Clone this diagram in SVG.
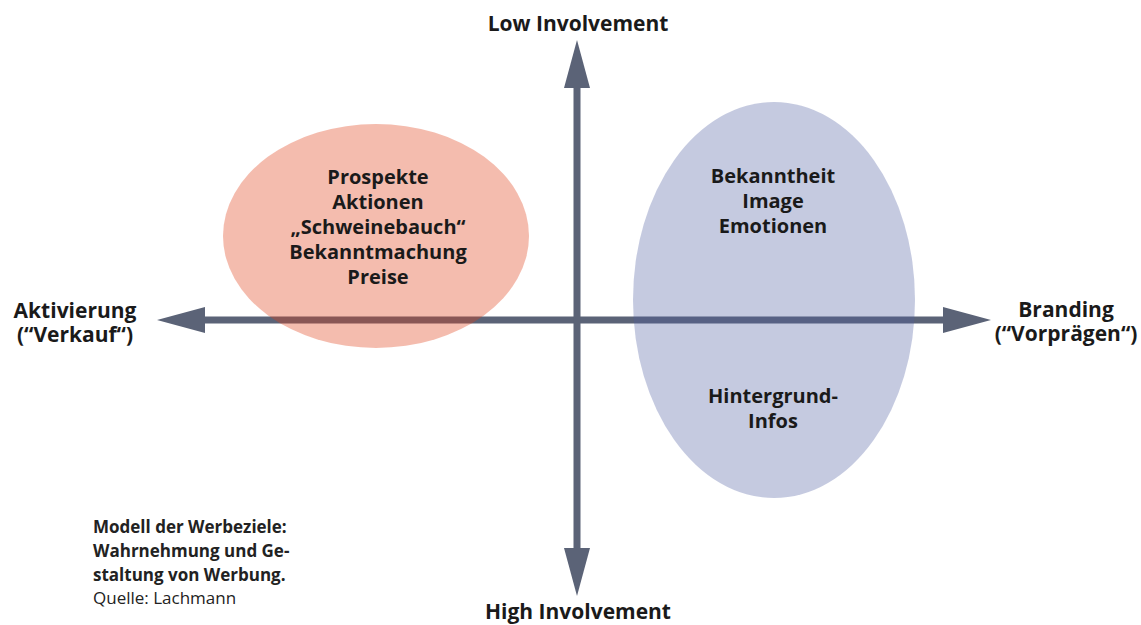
<svg xmlns="http://www.w3.org/2000/svg" width="1141" height="625" viewBox="0 0 1141 625">
<style>
.lbl{font-family:"Open Sans","Liberation Sans",sans-serif;font-weight:bold;font-size:20px;fill:#1a1a1a;text-anchor:middle}
.ax{font-size:21px}
.cap{font-family:"Open Sans","Liberation Sans",sans-serif;font-size:17px;fill:#222}
.capb{font-weight:bold}
.axis{stroke:#5b6377;stroke-width:7;fill:none}
</style>
<defs>
<marker id="head" viewBox="0 0 48 26" refX="0" refY="13" markerWidth="48" markerHeight="26" markerUnits="userSpaceOnUse" orient="auto-start-reverse">
<path d="M0,0 L48,13 L0,26 Z" fill="#5b6377"/>
</marker>
</defs>
<rect width="1141" height="625" fill="#ffffff"/>
<g id="connectors">
<line class="axis" x1="205" y1="320" x2="943" y2="320" marker-start="url(#head)" marker-end="url(#head)"/>
<line class="axis" x1="577" y1="88" x2="577" y2="548" marker-start="url(#head)" marker-end="url(#head)"/>
</g>
<g id="node-aktivierung-ellipse">
<ellipse cx="376" cy="236" rx="153" ry="112" fill="#df3f17" fill-opacity="0.35"/>
<text class="lbl"><tspan x="378" y="184">Prospekte</tspan><tspan x="378" y="209">Aktionen</tspan><tspan x="378" y="234">„Schweinebauch“</tspan><tspan x="378" y="259">Bekanntmachung</tspan><tspan x="378" y="284">Preise</tspan></text>
</g>
<g id="node-branding-ellipse">
<ellipse cx="774" cy="300" rx="141" ry="198" fill="#4f5ea0" fill-opacity="0.33"/>
<text class="lbl"><tspan x="773" y="183">Bekanntheit</tspan><tspan x="773" y="208">Image</tspan><tspan x="773" y="233">Emotionen</tspan></text>
<text class="lbl"><tspan x="773" y="403">Hintergrund-</tspan><tspan x="773" y="428">Infos</tspan></text>
</g>
<g id="node-low"><text class="lbl ax" x="578" y="31">Low Involvement</text></g>
<g id="node-high"><text class="lbl ax" x="578" y="619">High Involvement</text></g>
<g id="node-aktivierung"><text class="lbl ax"><tspan x="75" y="318">Aktivierung</tspan><tspan x="75" y="342">(“Verkauf“)</tspan></text></g>
<g id="node-branding"><text class="lbl ax"><tspan x="1066" y="317">Branding</tspan><tspan x="1066" y="341">(“Vorprägen“)</tspan></text></g>
<g id="caption">
<text class="cap"><tspan class="capb" x="93" y="533">Modell der Werbeziele:</tspan><tspan class="capb" x="93" y="557">Wahrnehmung und Ge-</tspan><tspan class="capb" x="93" y="581">staltung von Werbung.</tspan><tspan x="93" y="604">Quelle: Lachmann</tspan></text>
</g>
</svg>
